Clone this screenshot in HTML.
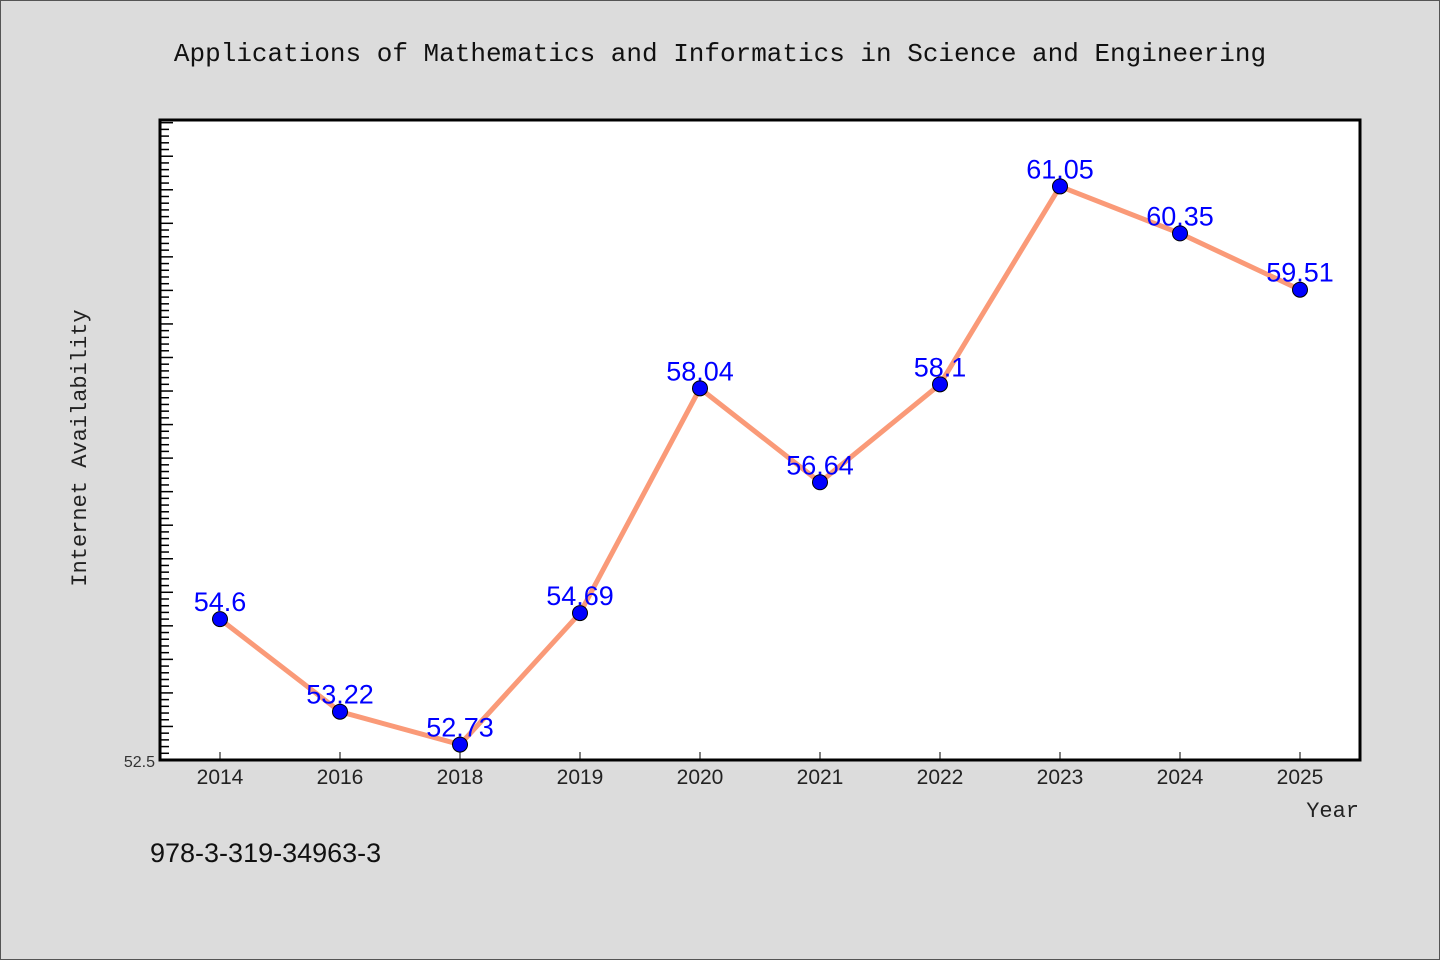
<!DOCTYPE html>
<html><head><meta charset="utf-8"><style>
html,body{margin:0;padding:0;background:#dcdcdc;}
svg{display:block;font-family:"Liberation Mono","Noto Sans CJK SC",monospace;}
</style></head><body>
<svg id="chart" width="1440" height="960" xmlns="http://www.w3.org/2000/svg">
<rect x="0.5" y="0.5" width="1439" height="959" fill="#dcdcdc" stroke="#555"/>
<text x="720" y="61" text-anchor="middle" font-size="26" fill="#111">Applications of Mathematics and Informatics in Science and Engineering</text>
<rect x="160" y="120" width="1200" height="640" fill="#fff"/>
<g id="ticks"></g>
<g id="xticks"></g>
<polyline id="line" fill="none" stroke="#fa9a78" stroke-width="5" stroke-linejoin="round"/>
<g id="points"></g>
<rect x="160" y="120" width="1200" height="640" fill="none" stroke="#000" stroke-width="3"/>
<text x="155" y="767" text-anchor="end" font-family="Liberation Sans, sans-serif" font-size="16" fill="#333">52.5</text>
<text x="86" y="448" text-anchor="middle" font-size="22" fill="#222" transform="rotate(-90 86 448)">Internet Availability</text>
<text x="1359" y="817" text-anchor="end" font-size="22" fill="#222">Year</text>
<text x="150" y="862" font-family="Liberation Sans, sans-serif" font-size="27" fill="#111">978-3-319-34963-3</text>
</svg>
<script>
const categories = ["2014","2016","2018","2019","2020","2021","2022","2023","2024","2025"];
const values = [54.6,53.22,52.73,54.69,58.04,56.64,58.1,61.05,60.35,59.51];
const yMin = 52.5, yMax = 62.04;
const NS = "http://www.w3.org/2000/svg";
const L=160,R=1360,T=120,B=760;
const xs = i => 220 + i*120;
const ys = v => B - (v-yMin)/(yMax-yMin)*(B-T);
const tg = document.getElementById('ticks');
for(let k=0;;k++){
  const v = yMin + k*0.1; if(v>yMax+1e-9) break;
  const y = ys(v); const major = k%5===0;
  const ln=document.createElementNS(NS,'line');
  ln.setAttribute('x1',L); ln.setAttribute('x2',L+(major?13:9));
  ln.setAttribute('y1',y); ln.setAttribute('y2',y);
  ln.setAttribute('stroke','#000'); ln.setAttribute('stroke-width','1.5');
  
  
  tg.appendChild(ln);
}
const xg=document.getElementById('xticks');
const pg=document.getElementById('points');
const pts=[];
categories.forEach((c,i)=>{
  const x=xs(i), y=ys(values[i]); pts.push(x+','+y);
  const ln=document.createElementNS(NS,'line');
  ln.setAttribute('x1',x); ln.setAttribute('x2',x); ln.setAttribute('y1',B-8); ln.setAttribute('y2',B);
  ln.setAttribute('stroke','#000');
  
  
  xg.appendChild(ln);
  const t=document.createElementNS(NS,'text');
  t.setAttribute('x',x); t.setAttribute('y',B+24); t.setAttribute('text-anchor','middle');
  t.setAttribute('font-family','Liberation Sans, sans-serif'); t.setAttribute('font-size','21'); t.setAttribute('fill','#222');
  t.textContent=c;
  
  
  xg.appendChild(t);
  const cc=document.createElementNS(NS,'circle');
  cc.setAttribute('cx',x); cc.setAttribute('cy',y); cc.setAttribute('r','7.5');
  cc.setAttribute('fill','#0000ff'); cc.setAttribute('stroke','#000'); cc.setAttribute('stroke-width','1');
  
  
  pg.appendChild(cc);
  const lb=document.createElementNS(NS,'text');
  lb.setAttribute('x',x); lb.setAttribute('y',y-8); lb.setAttribute('text-anchor','middle');
  lb.setAttribute('font-family','Liberation Sans, sans-serif'); lb.setAttribute('font-size','27'); lb.setAttribute('fill','#0000ff');
  lb.textContent=String(values[i]);
  
  
  pg.appendChild(lb);
});
document.getElementById('line').setAttribute('points',pts.join(' '));
</script>
</body></html>
